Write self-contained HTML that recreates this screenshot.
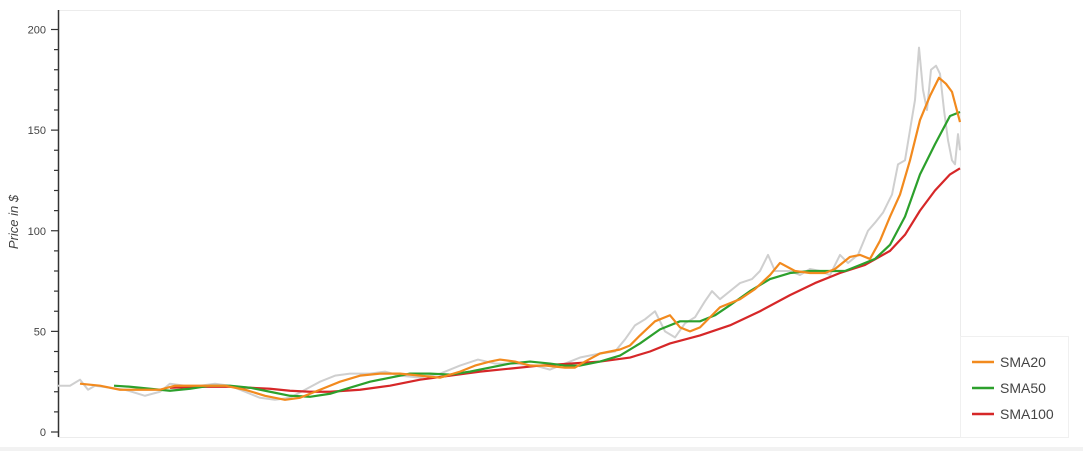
<!DOCTYPE html>
<html><head><meta charset="utf-8"><style>
html,body{margin:0;padding:0;background:#fff;}
svg{display:block;font-family:"Liberation Sans",sans-serif;}
</style></head><body>
<svg id="chart" width="1083" height="451">
<rect x="0" y="447" width="1083" height="4" fill="#f2f2f2"/>
<rect x="58.5" y="10.5" width="902" height="427" fill="none" stroke="#ececec"/>
<g id="axis"></g>
<text x="18" y="222" transform="rotate(-90 18 222)" text-anchor="middle" font-size="13" font-style="italic" fill="#444">Price in $</text>
<g id="series"></g>
<g>
<rect x="960.5" y="336.5" width="108" height="101" fill="#fff" stroke="#f0f0f0"/>
<line x1="972" y1="362" x2="994" y2="362" stroke="#f28a1e" stroke-width="2.5"/>
<text x="1000" y="367" font-size="14" fill="#444">SMA20</text>
<line x1="972" y1="388" x2="994" y2="388" stroke="#2ca02c" stroke-width="2.5"/>
<text x="1000" y="393" font-size="14" fill="#444">SMA50</text>
<line x1="972" y1="414" x2="994" y2="414" stroke="#d62728" stroke-width="2.5"/>
<text x="1000" y="419" font-size="14" fill="#444">SMA100</text>
</g>
</svg>
<script>
const yTicks=[0,50,100,150,200];
const priceDays=[0,12,22,30,37,52,67,87,102,112,127,142,157,172,187,202,217,232,247,262,277,292,312,327,342,362,382,402,420,437,457,477,492,507,522,542,557,567,577,587,597,607,617,627,637,647,654,662,672,682,694,702,710,717,732,742,752,762,772,782,790,800,810,817,825,834,840,847,852,857,861,865,869,873,878,882,886,890,894,897,900,902];
const priceVals=[23,23,26,21,23,22,21,18,20,24,23,23,24,23,20,17,16,17,21,25,28,29,29,30,28,27,29,33,36,34,34,33,31,34,37,39,40,46,53,56,60,50,47,54,57,65,70,66,70,74,76,80,88,80,80,78,81,80,78,88,84,88,100,104,109,118,133,135,150,165,191,170,160,180,182,178,160,145,135,133,148,140];
const sma20Days=[22,42,62,82,102,117,142,167,187,207,227,242,262,282,302,322,342,362,382,402,417,432,442,457,472,487,507,517,527,542,562,572,582,597,612,622,632,642,662,682,697,712,722,737,752,767,777,792,802,812,822,832,842,852,862,872,881,888,894,902];
const sma20Vals=[24,23,21,21,21,23,23,23,21,18,16,17,21,25,28,29,29,28,27,30,33,35,36,35,33,33,32,32,35,39,41,43,48,55,58,52,50,52,62,66,71,78,84,80,79,79,81,87,88,86,95,107,118,135,155,167,176,173,169,154];
const sma50Days=[56,72,92,112,132,152,172,192,212,232,252,272,292,312,332,352,372,392,412,432,452,472,492,507,522,542,562,582,602,622,642,657,672,692,712,732,752,772,787,802,817,832,847,862,877,892,902];
const sma50Vals=[23,22.5,21.5,20.5,21.5,23,23,22,20,18,17.5,19,22,25,27,29,29,28.5,30,32,34,35,34,33,33,35,38,44,51,55,55,58,63,70,76,79,80,80,80,83,86,93,107,128,143,157,159];
const sma100Days=[112,142,172,192,212,232,252,272,302,332,362,392,422,452,482,512,542,572,592,612,642,672,702,732,757,782,807,832,847,862,877,892,902];
const sma100Vals=[22,22.5,22.5,22,21.5,20.5,20,20,21,23,26,28,30,31.5,33,34,35,37,40,44,48,53,60,68,74,79,83,90,98,110,120,128,131];

const NS="http://www.w3.org/2000/svg";
const x0=58,x1=960,yBase=432,yTop=29.5;
const xScale=d=>x0+(d/902)*(x1-x0);
const yScale=v=>yBase-(v/200)*(yBase-yTop);
const axis=document.getElementById('axis');
const al=document.createElementNS(NS,'line');
al.setAttribute('x1',58.5);al.setAttribute('x2',58.5);al.setAttribute('y1',10);al.setAttribute('y2',437);
al.setAttribute('stroke','#333');al.setAttribute('stroke-width','1.5');


axis.appendChild(al);
for(let v=0;v<=200;v+=10){
  const t=document.createElementNS(NS,'line');
  const major=v%50===0;
  t.setAttribute('x1',major?51:54);t.setAttribute('x2',58);
  t.setAttribute('y1',yScale(v));t.setAttribute('y2',yScale(v));
  t.setAttribute('stroke','#333');t.setAttribute('stroke-width','1.2');
  
  
  axis.appendChild(t);
}
yTicks.forEach(v=>{
  const tx=document.createElementNS(NS,'text');
  tx.setAttribute('x',46);tx.setAttribute('y',yScale(v)+4);
  tx.setAttribute('text-anchor','end');tx.setAttribute('font-size','11');tx.setAttribute('fill','#444');
  tx.textContent=v;
  
  
  axis.appendChild(tx);
});
const g=document.getElementById('series');
function draw(days,vals,color,w,name){
  const p=document.createElementNS(NS,'polyline');
  p.setAttribute('points',days.map((d,i)=>xScale(d)+','+yScale(vals[i])).join(' '));
  p.setAttribute('fill','none');p.setAttribute('stroke',color);p.setAttribute('stroke-width',w);
  p.setAttribute('stroke-linejoin','round');
  
  
  g.appendChild(p);
}
draw(priceDays,priceVals,'#cfcfcf',2,'price-line');
draw(sma100Days,sma100Vals,'#d62728',2.2,'sma100-line');
draw(sma50Days,sma50Vals,'#2ca02c',2.2,'sma50-line');
draw(sma20Days,sma20Vals,'#f28a1e',2.2,'sma20-line');
</script>
</body></html>
